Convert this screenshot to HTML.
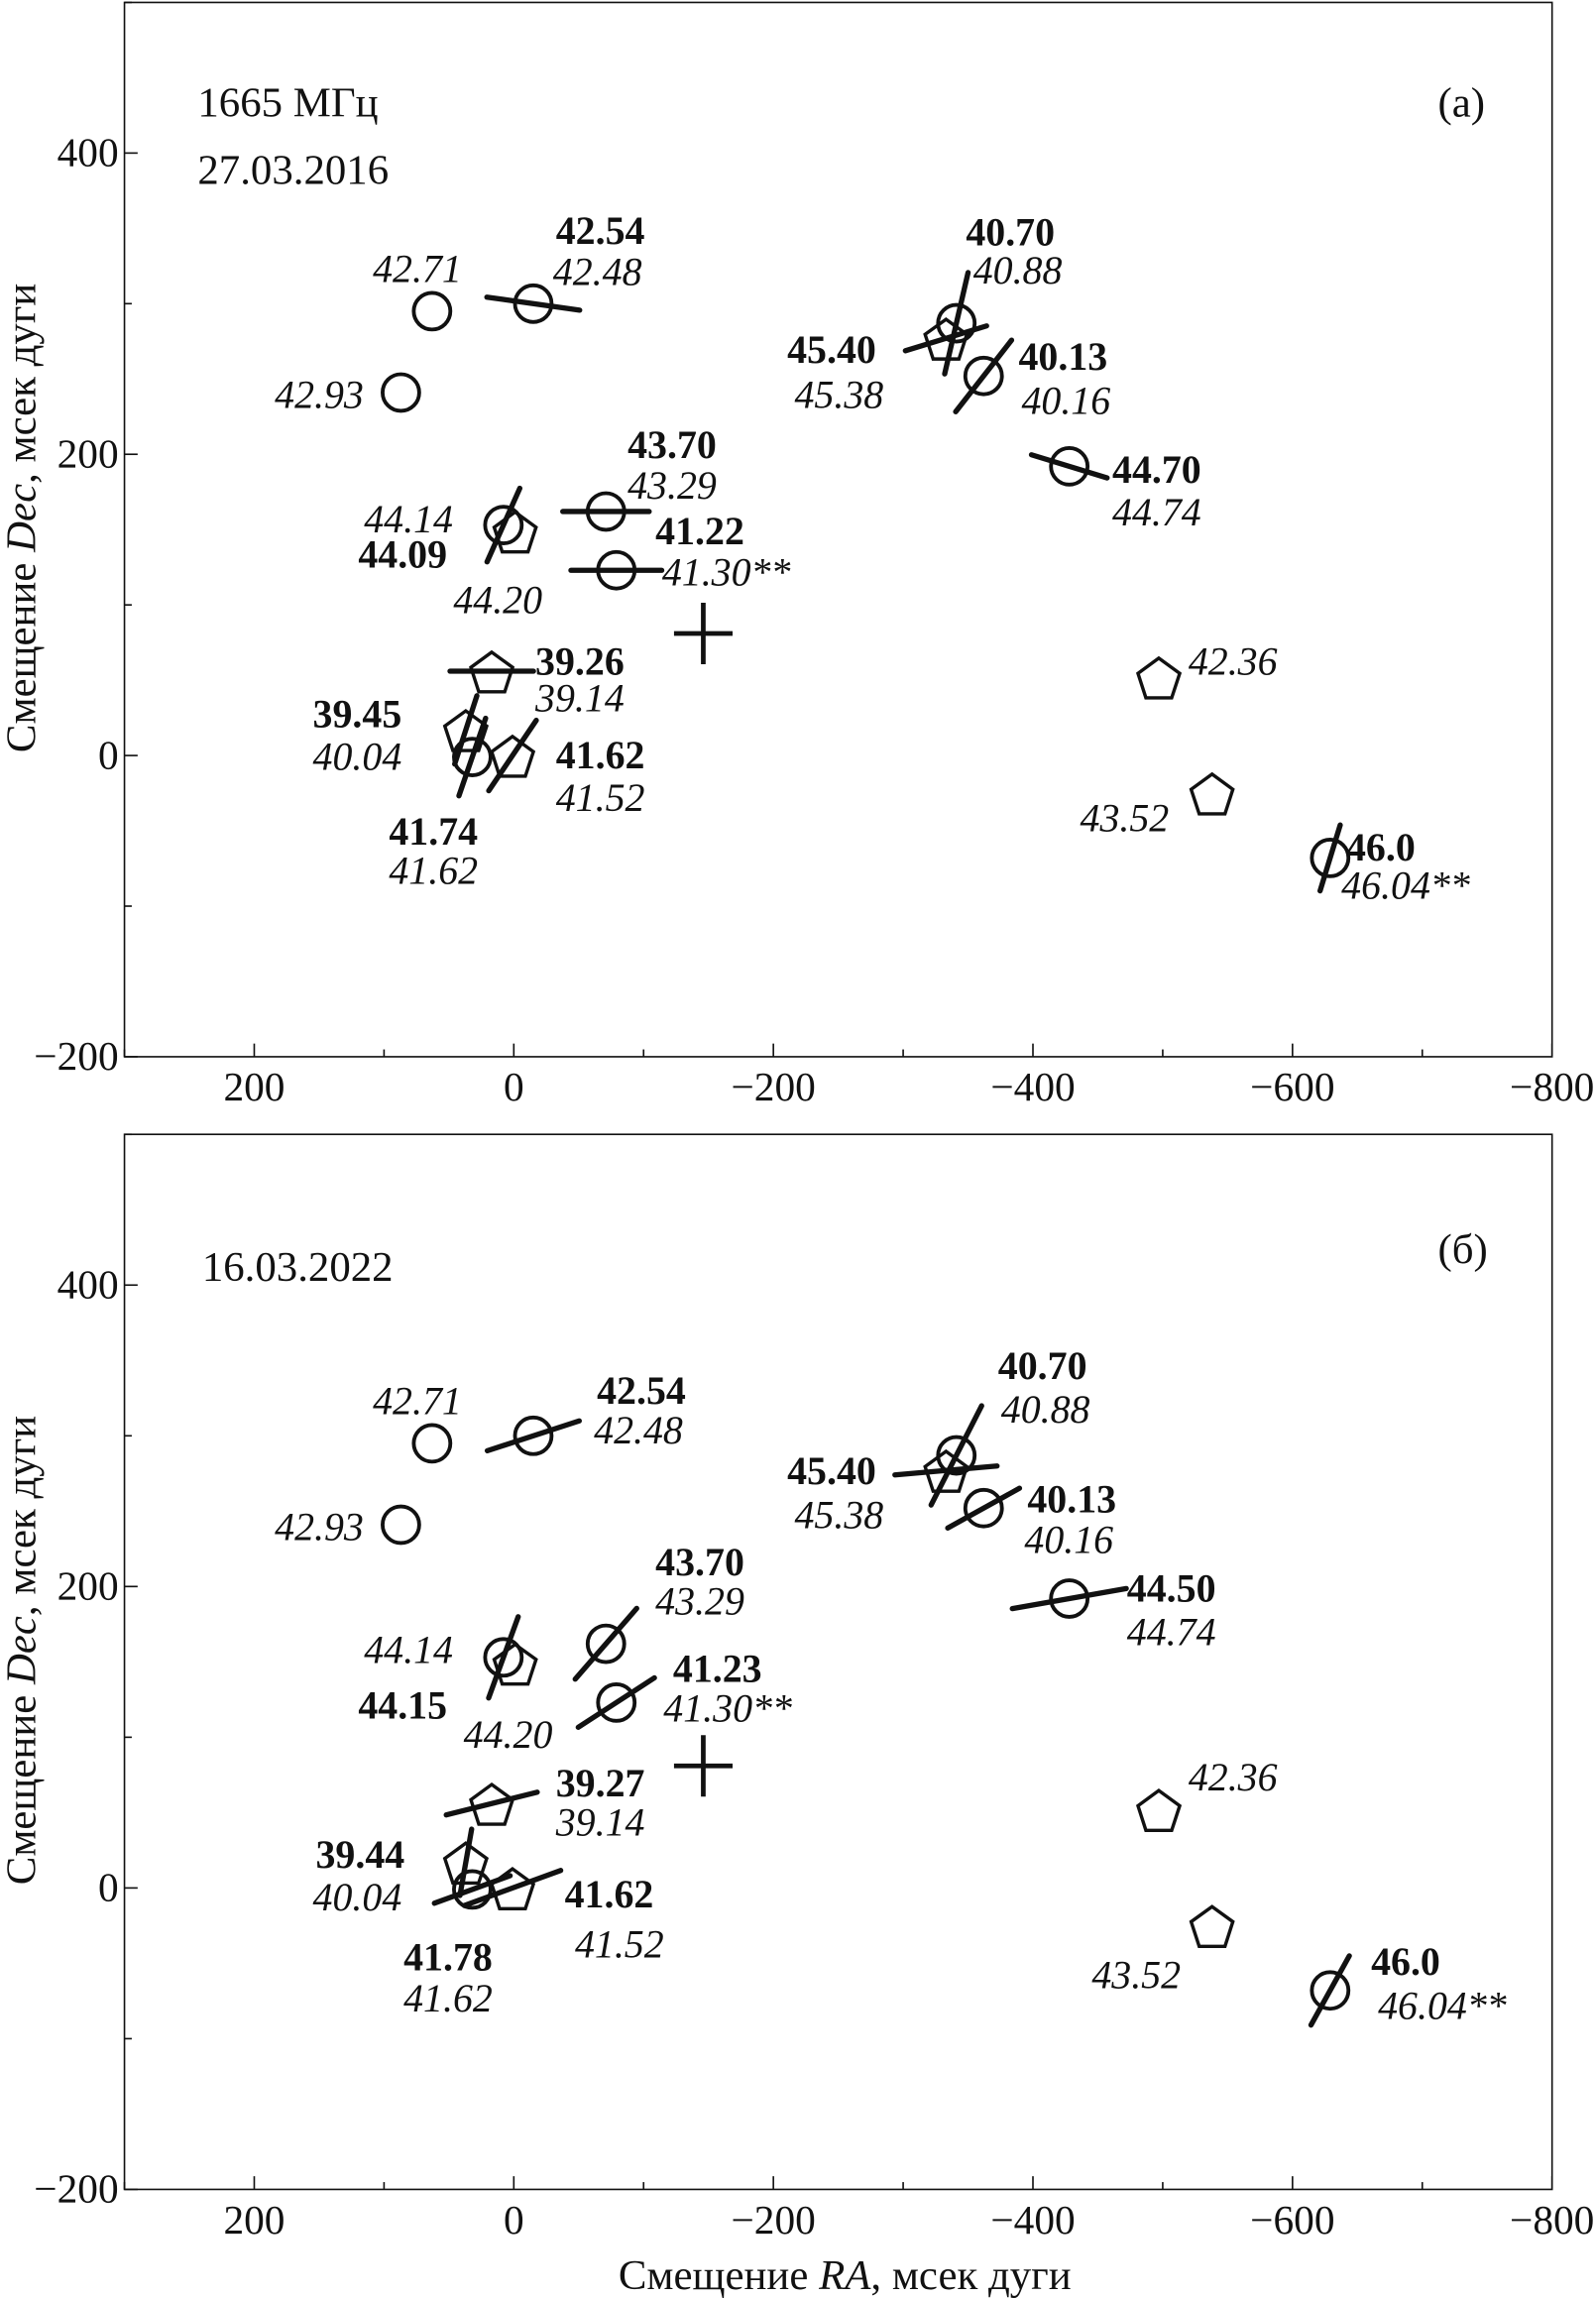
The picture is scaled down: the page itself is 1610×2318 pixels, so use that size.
<!DOCTYPE html>
<html><head><meta charset="utf-8"><style>
html,body{margin:0;padding:0;background:#fff}
svg{display:block}
text{font-family:"Liberation Serif",serif;fill:#111}
.b{font-weight:bold}
.i{font-style:italic}
</style></head><body>
<svg id="chart" width="1610" height="2318" viewBox="0 0 1090 1569" xmlns="http://www.w3.org/2000/svg"></svg>
<script>
// ---- data ----
const xTicks = [200, 0, -200, -400, -600, -800];
const yTicks = [400, 200, 0, -200];
const markerTypes = ['c','c','c','c','p','c','c','c','c','c','p','x','p','p','c','p','p','p','c'];
const markerRA  = [63, -15, 87, -341, -333, -362, -428, -71, -79, 8, -1, -146, 17, 37, 32, 1, -497, -538, -629];
const markerDec = [295, 300, 241, 287, 277, 252, 192, 162, 123, 153, 149, 81, 56, 17, -1, 0, 52, -25, -68];
// lines (polarisation direction): marker index, angle deg, length px
const linesA_idx = [1, 3, 4, 5, 6, 7, 8, 9, 12, 13, 14, 15, 18];
const linesA_ang = [-8, 77, 17, 52, -17, 0, 0, 66, 0, 72, 71, 56, 73];
const linesA_len = [64, 71, 58, 62, 54, 59, 62, 55, 57, 49, 56, 58, 47];
const linesB_idx = [1, 3, 4, 5, 6, 7, 8, 9, 12, 13, 14, 15, 18];
const linesB_ang = [18, 63, 5, 29, 10, 49, 33, 70, 14, 80, 20, 20, 61];
const linesB_len = [66, 76, 70, 56, 79, 64, 62, 59, 64, 46, 55, 70, 54];
// labels: text, style, centre x, centre y (px in panel)
const labelsA = [
 ['42.71','i',285,190],['42.54','b',410,164],['42.48','i',408,192],['42.93','i',218,276],
 ['40.70','b',690,165],['40.88','i',695,191],['45.40','b',568,245],['45.38','i',573,276],
 ['40.13','b',726,250],['40.16','i',728,280],['44.70','b',790,327],['44.74','i',790,356],
 ['43.70','b',459,310],['43.29','i',459,338],['41.22','b',478,369],['41.30**','i',496,397],
 ['44.14','i',279,361],['44.09','b',275,385],['44.20','i',340,416],
 ['39.26','b',396,458],['39.14','i',396,483],['39.45','b',244,494],['40.04','i',244,523],
 ['41.74','b',296,574],['41.62','i',296,601],['41.62','b',410,522],['41.52','i',410,551],
 ['42.36','i',842,458],['43.52','i',768,565],['46.0','b',943,585],['46.04**','i',960,611]];
const labelsB = [
 ['42.71','i',285,190],['42.54','b',438,183],['42.48','i',436,210],['42.93','i',218,276],
 ['40.70','b',712,166],['40.88','i',714,196],['45.40','b',568,238],['45.38','i',573,268],
 ['40.13','b',732,257],['40.16','i',730,285],['44.50','b',800,318],['44.74','i',800,348],
 ['43.70','b',478,300],['43.29','i',478,327],['41.23','b',490,373],['41.30**','i',497,400],
 ['44.14','i',279,360],['44.15','b',275,398],['44.20','i',347,418],
 ['39.27','b',410,451],['39.14','i',410,478],['39.44','b',246,500],['40.04','i',244,529],
 ['41.78','b',306,570],['41.62','i',306,598],['41.62','b',416,527],['41.52','i',423,561],
 ['42.36','i',842,447],['43.52','i',776,582],['46.0','b',960,573],['46.04**','i',985,603]];

const NS='http://www.w3.org/2000/svg';
const svg=document.getElementById('chart');
function el(t,a,p){const e=document.createElementNS(NS,t);for(const k in a)e.setAttribute(k,a[k]);(p||svg).appendChild(e);return e;}
const L=85,R=1060;
function X(ra){return L+(300-ra)/1100*(R-L);}

function panel(top,bottom,lines,labels,name,texts){
  const g=el('g',{});
  
  
  const Y=d=>bottom-(d+200)/700*(bottom-top);
  const fr=el('rect',{x:L,y:top,width:R-L,height:bottom-top,fill:'none',stroke:'#111','stroke-width':1.1},g);
  
  
  for(let v=300;v>=-800;v-=100){
    const major=v%200===0;const x=X(v);
    el('line',{x1:x,y1:bottom,x2:x,y2:bottom-(major?9:5),stroke:'#111','stroke-width':1.1},g);
  }
  for(let v=-200;v<=500;v+=100){
    const major=v%200===0;const y=Y(v);
    el('line',{x1:L,y1:y,x2:L+(major?9:5),y2:y,stroke:'#111','stroke-width':1.1},g);
  }
  xTicks.forEach(v=>{const t=el('text',{x:X(v),y:bottom+30,'text-anchor':'middle','font-size':28},g);t.textContent=(v<0?'\u2212'+(-v):v);
    });
  yTicks.forEach(v=>{const t=el('text',{x:L-4,y:Y(v)+9,'text-anchor':'end','font-size':28},g);t.textContent=(v<0?'\u2212'+(-v):v);
    });
  const yt=el('text',{x:0,y:0,'text-anchor':'middle','font-size':29,transform:`translate(24,${(top+bottom)/2-8}) rotate(-90)`},g);
  yt.innerHTML='Смещение <tspan font-style="italic">Dec</tspan>, мсек дуги';
  
  texts.forEach(([s,x,y])=>{const t=el('text',{x:x,y:top+y,'font-size':29},g);t.textContent=s;
    });
  markerTypes.forEach((tp,i)=>{
    const cx=X(markerRA[i]),cy=Y(markerDec[i]);let m;
    if(tp==='c'){m=el('circle',{cx:cx,cy:cy,r:12.5,fill:'none',stroke:'#111','stroke-width':2.6},g);}
    else if(tp==='p'){let pts=[];for(let k=0;k<5;k++){const a=-Math.PI/2+k*2*Math.PI/5;pts.push((cx+15*Math.cos(a)).toFixed(1)+','+(cy+2+15*Math.sin(a)).toFixed(1));}
      m=el('polygon',{points:pts.join(' '),fill:'none',stroke:'#111','stroke-width':2.3},g);}
    else {m=el('path',{d:`M${cx-20},${cy}H${cx+20}M${cx},${cy-21}V${cy+21}`,stroke:'#111','stroke-width':3.2},g);}
    
    
  });
  lines[0].forEach((idx,j)=>{
    const cx=X(markerRA[idx]),cy=Y(markerDec[idx]);const a=lines[1][j]*Math.PI/180,h=lines[2][j]/2;
    const ln=el('line',{x1:cx-h*Math.cos(a),y1:cy+h*Math.sin(a),x2:cx+h*Math.cos(a),y2:cy-h*Math.sin(a),stroke:'#111','stroke-width':3.6,'stroke-linecap':'round'},g);
    
    
  });
  labels.forEach(([s,st,x,y])=>{const t=el('text',{x:x,y:top+y+1,'font-size':27,'text-anchor':'middle',class:st},g);t.textContent=s;
    });
}
panel(1.5,721.5,[linesA_idx,linesA_ang,linesA_len],labelsA,'panel-a',[['1665 МГц',135,78],['27.03.2016',135,124],['(a)',982,78]]);
panel(774.5,1495,[linesB_idx,linesB_ang,linesB_len],labelsB,'panel-b',[['16.03.2022',138,100],['(б)',982,88]]);
const xt=el('text',{x:577,y:1563,'text-anchor':'middle','font-size':29});
xt.innerHTML='Смещение <tspan font-style="italic">RA</tspan>, мсек дуги';


</script>
</body></html>
